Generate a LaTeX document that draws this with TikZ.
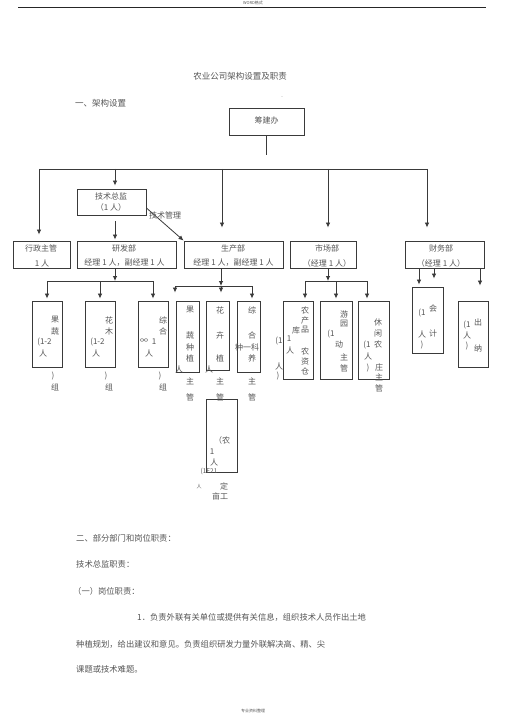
\documentclass[tikz,border=0pt]{standalone}
\usepackage{fontspec}
\newfontfamily\cjk{Noto Sans CJK SC}
\usetikzlibrary{arrows.meta}
\definecolor{txt}{HTML}{555555}
\definecolor{lnc}{HTML}{3A3A3A}
\tikzset{
  box/.style={draw=lnc, line width=0.9pt, inner sep=0pt},
  t/.style={font=\cjk\fontsize{8}{9}\selectfont, text=txt, inner sep=0pt},
  tb/.style={font=\cjk\fontsize{8.3}{9}\selectfont, text=txt, inner sep=0pt, anchor=west},
  tiny/.style={font=\cjk\fontsize{4}{4}\selectfont, text=txt, inner sep=0pt},
  conn/.style={draw=lnc, line width=0.8pt},
  arr/.style={draw=lnc, line width=0.8pt, -{Latex[length=5pt,width=4.5pt]}}
}
\begin{document}
\begin{tikzpicture}[x=1pt,y=-1pt]
\fill[white] (0,0) rectangle (505,714);
\useasboundingbox (0,0) rectangle (505,714);

% header / footer
\node[tiny] (hdr) at (253,3) {WORD格式};
\draw[line width=0.8pt, black!85] (18,7) -- (486,7);
\node[tiny] (ftr) at (253,711) {专业资料整理};

% title
\node[t, font=\cjk\fontsize{8.5}{9}\selectfont] (title) at (240,76) {农业公司架构设置及职责};
\node[t, anchor=west, font=\cjk\fontsize{8.5}{9}\selectfont] (sec1) at (75,103) {一、架构设置};
\node[tiny] (dots) at (282,97) {..};

% top box
\node[box, minimum width=75pt, minimum height=27pt] (cjb) at (266.5,121.5) {};
\node[t] (cjbt) at (266.5,120) {筹建办};

% level 1 lines
\coordinate (hub) at (266.5,155);
\draw[conn] (cjb.south) -- (hub);
\coordinate (d1) at (39,169);
\coordinate (d2) at (115,169);
\coordinate (d3) at (222,169);
\coordinate (d4) at (328,169);
\coordinate (d5) at (427,169);
\draw[conn] (d1) -- (d5);

% 技术总监
\node[box, minimum width=69pt, minimum height=26pt] (jszj) at (111.5,202) {};
\node[t] (jszj1) at (111,196) {技术总监};
\node[t] (jszj2) at (111,207) {（1 人）};

% level 2 boxes
\node[box, minimum width=57pt, minimum height=27pt] (xz) at (41.5,254.5) {};
\node[t] (xz1) at (41,248) {行政主管};
\node[t] (xz2) at (42,263) {1 人};

\node[box, minimum width=99pt, minimum height=27pt] (yf) at (126.5,254.5) {};
\node[t] (yf1) at (124,248) {研发部};
\node[t] (yf2) at (124.5,263) {经理 1 人，副经理 1 人};

\node[box, minimum width=99pt, minimum height=27pt] (sc) at (233.5,254.5) {};
\node[t] (sc1) at (233,248) {生产部};
\node[t] (sc2) at (233.5,263) {经理 1 人，副经理 1 人};

\node[box, minimum width=66pt, minimum height=27pt] (sch) at (323,254.5) {};
\node[t] (sch1) at (327,248) {市场部};
\node[t] (sch2) at (327,263) {（经理 1 人）};

\node[box, minimum width=79pt, minimum height=27pt] (cw) at (444.5,254.5) {};
\node[t] (cw1) at (441,248) {财务部};
\node[t] (cw2) at (441,263) {（经理 1 人）};

% level 1 arrows
\draw[arr, shorten >=6pt] (d1) -- (d1 |- xz.north);
\draw[arr, shorten >=3pt] (d2) -- (d2 |- jszj.north);
\draw[arr, shorten >=13pt] (d3) -- (d3 |- sc.north);
\draw[arr, shorten >=13pt] (d4) -- (d4 |- sch.north);
\draw[arr, shorten >=13pt] (d5) -- (d5 |- cw.north);
\draw[arr, shorten <=6pt, shorten >=1pt] (jszj.south -| d2) -- (d2 |- yf.north);
\draw[arr] ([yshift=-6pt]jszj.east) -- (sc.north west);
\node[t] (jsgl) at (165,215) {技术管理};

% level 3 boxes
\node[box, minimum width=30pt, minimum height=66pt] (b1) at (47,334) {};
\node[box, minimum width=30pt, minimum height=66pt] (b2) at (100,334) {};
\node[box, minimum width=30pt, minimum height=66pt] (b3) at (153,334) {};
\node[box, minimum width=23pt, minimum height=71pt] (b4) at (187.5,336.5) {};
\node[box, minimum width=23pt, minimum height=69pt] (b5) at (217.5,335.5) {};
\node[box, minimum width=23pt, minimum height=71pt] (b6) at (248.5,336.5) {};
\node[box, minimum width=30pt, minimum height=78pt] (b7) at (298,340) {};
\node[box, minimum width=32pt, minimum height=78pt] (b8) at (336,340) {};
\node[box, minimum width=31pt, minimum height=78pt] (b9) at (373.5,340) {};
\node[box, minimum width=31pt, minimum height=66pt] (b10) at (427.5,320) {};
\node[box, minimum width=30pt, minimum height=66pt] (b11) at (473,334) {};
\node[box, minimum width=31pt, minimum height=73pt] (b12) at (221.5,435.5) {};

% 研发部 branch
\coordinate (y3) at (115,281);
\coordinate (y3a) at (47,281);
\coordinate (y3c) at (153,281);
\draw[arr] (yf.south -| y3) -- (y3);
\draw[conn] (y3a) -- (y3c);
\draw[arr, shorten >=2pt] (y3a) -- (y3a |- b1.north);
\draw[arr, shorten >=2pt] (y3 -| b2.north) -- (b2.north);
\draw[arr, shorten >=2pt] (y3c) -- (y3c |- b3.north);

% 生产部 branch
\coordinate (p5) at (221,286);
\coordinate (p4) at (175,286);
\coordinate (p6) at (252,286);
\draw[arr] (sc.south -| p5) -- (p5);
\draw[conn] (p4) -- (p6);
\draw[arr, shorten >=8pt] (p4) -- (p4 |- b4.north);
\draw[arr, shorten >=8pt] (p5) -- (p5 |- b5.north);
\draw[arr, shorten >=2pt] (p6) -- (p6 |- b6.north);

% 市场部 branch
\coordinate (m0) at (328,281);
\coordinate (m1) at (305,281);
\coordinate (m2) at (336,281);
\coordinate (m3) at (367,281);
\draw[arr] (sch.south -| m0) -- (m0);
\draw[conn] (m1) -- (m3);
\draw[arr, shorten >=2pt] (m1) -- (m1 |- b7.north);
\draw[arr, shorten >=2pt] (m2) -- (m2 |- b8.north);
\draw[arr, shorten >=2pt] (m3) -- (m3 |- b9.north);

% 财务部 branch
\coordinate (f1) at (419,268);
\coordinate (f2) at (434,268);
\coordinate (f3) at (480,268);
\draw[arr, shorten >=2pt] (f1) -- (f1 |- b10.north);
\draw[arr, shorten >=8pt] (f2) -- (f2 |- b10.north);
\draw[arr, shorten >=15pt] (f3) -- (f3 |- b11.north);

% texts b1-b3
\node[t] (b1a) at (55,320) {果};
\node[t] (b1b) at (55,331) {蔬};
\node[t] (b1c) at (44.5,342) {(1-2};
\node[t] (b1d) at (43,353) {人};
\node[t] (b1e) at (53,376) {)};
\node[t] (b1f) at (55,387) {组};

\node[t] (b2a) at (109,320) {花};
\node[t] (b2b) at (109,331) {木};
\node[t] (b2c) at (97.5,342) {(1-2};
\node[t] (b2d) at (96,353) {人};
\node[t] (b2e) at (106,376) {)};
\node[t] (b2f) at (109,387) {组};

\node[t] (b3a) at (163,320) {综};
\node[t] (b3b) at (163,331) {合};
\node[t] (b3c) at (144,341) {∞};
\node[t] (b3d) at (154,342) {1};
\node[t] (b3e) at (149,353) {人};
\node[t] (b3f) at (160,376) {)};
\node[t] (b3g) at (163,387) {组};

% texts b4-b6
\node[t] (b4a) at (190,310) {果};
\node[t] (b4b) at (190,335) {蔬};
\node[t] (b4c) at (190,347) {种};
\node[t] (b4d) at (190,358) {植};
\node[t] (b4e) at (179,369) {人};
\node[t] (b4f) at (190,381) {主};
\node[t] (b4g) at (190,397) {管};

\node[t] (b5a) at (220,310) {花};
\node[t] (b5b) at (220,335) {卉};
\node[t] (b5c) at (220,358) {植};
\node[t] (b5d) at (209,369) {人};
\node[t] (b5e) at (220,381) {主};
\node[t] (b5f) at (220,397) {管};

\node[t] (b6a) at (252,310) {综};
\node[t] (b6b) at (252,335) {合};
\node[t] (b6c) at (247,347) {种一科};
\node[t] (b6d) at (252,358) {养};
\node[t] (b6e) at (252,381) {主};
\node[t] (b6f) at (252,397) {管};

% texts b7-b9
\node[t] (b7a) at (305,310) {农};
\node[t] (b7b) at (305,320) {产};
\node[t] (b7c) at (296,330) {库};
\node[t] (b7d) at (305,330) {品};
\node[t] (b7e) at (279,341) {(1};
\node[t] (b7f) at (289,339) {1};
\node[t] (b7g) at (290,350) {人};
\node[t] (b7h) at (305,351) {农};
\node[t] (b7i) at (305,361) {资};
\node[t] (b7j) at (305,371) {仓};
\node[t] (b7k) at (279,366) {人};
\node[t] (b7l) at (278,376) {)};

\node[t] (b8a) at (344,314) {游};
\node[t] (b8b) at (344,324) {园};
\node[t] (b8c) at (331,334) {(1};
\node[t] (b8d) at (339,345) {动};
\node[t] (b8e) at (344,357) {主};
\node[t] (b8f) at (344,368) {管};

\node[t] (b9a) at (378,322) {休};
\node[t] (b9b) at (378,333) {闲};
\node[t] (b9c) at (378,344) {农};
\node[t] (b9d) at (367,345) {(1};
\node[t] (b9e) at (368,356) {人};
\node[t] (b9f) at (368,368) {)};
\node[t] (b9g) at (379,367) {庄};
\node[t] (b9h) at (379,377) {主};
\node[t] (b9i) at (379,388) {管};

% texts b10-b11
\node[t] (b10a) at (422,313) {(1};
\node[t] (b10b) at (433,308) {会};
\node[t] (b10c) at (422,334) {人};
\node[t] (b10d) at (433,333) {计};
\node[t] (b10e) at (422,345) {)};

\node[t] (b11a) at (467,325) {(1};
\node[t] (b11b) at (478,322) {出};
\node[t] (b11c) at (467,335) {人};
\node[t] (b11d) at (467,346) {)};
\node[t] (b11e) at (478,348) {纳};

% texts b12
\node[t] (b12a) at (222,440) {（农};
\node[t] (b12b) at (212,452) {1};
\node[t] (b12c) at (214,462) {人};
\node[t, font=\cjk\fontsize{6.5}{7}\selectfont] (b12d) at (209,471) {(1E21};
\node[t] (b12e) at (224,486) {定};
\node[t, font=\cjk\fontsize{5}{6}\selectfont] (b12f) at (199,487) {人};
\node[t] (b12g) at (220,496) {亩工};

% bottom text
\node[tb] (p1) at (76,538) {二、部分部门和岗位职责：};
\node[tb] (p2) at (76,564) {技术总监职责：};
\node[tb] (p3) at (73,591) {（一）岗位职责：};
\node[tb] (p4t) at (137,617) {1．负责外联有关单位或提供有关信息，组织技术人员作出土地};
\node[tb] (p5t) at (76,644) {种植规划，给出建议和意见。负责组织研发力量外联解决高、精、尖};
\node[tb] (p6t) at (76,669) {课题或技术难题。};
\end{tikzpicture}
\end{document}
